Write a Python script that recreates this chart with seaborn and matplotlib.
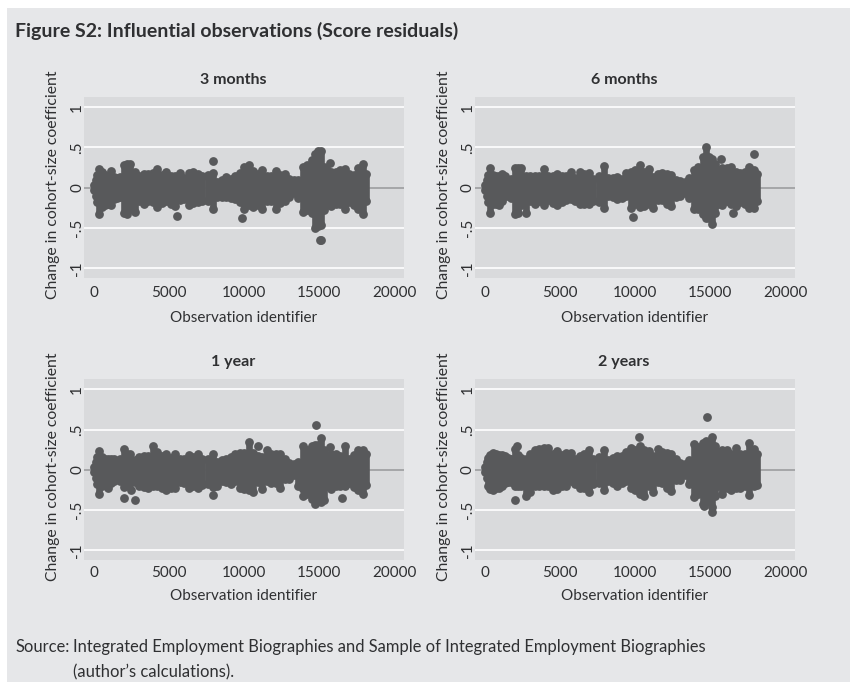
# Figure S2: influential observations, score residuals by horizon

import matplotlib
matplotlib.use("Agg")
import pandas as pd
import seaborn as sns
import matplotlib.pyplot as plt
from matplotlib.patches import Rectangle

W, H = 850, 682

panel_titles = ["3 months", "6 months", "1 year", "2 years"]
x_ticks = [0, 5000, 10000, 15000, 20000]
y_ticks = [-1, -0.5, 0, 0.5, 1]
y_tick_labels = ["-1", "-.5", "0", ".5", "1"]

obs_ids = [
    0, 100, 200, 300, 500, 700, 900, 1100, 1300, 1500,
    1700, 2000, 2200, 2400, 2700, 3000, 3300, 3600, 3900, 4200,
    4500, 4800, 5100, 5400, 5700, 6000, 6300, 6600, 6900, 7200,
    7600, 7900, 8200, 8500, 8800, 9100, 9400, 9700, 10000, 10300,
    10600, 10900, 11200, 11500, 11800, 12100, 12400, 12700, 13000, 13300,
    13600, 13900, 14200, 14500, 14700, 14900, 15100, 15300, 15500, 15800,
    16100, 16400, 16700, 17000, 17300, 17600, 17900, 18100,
]

upper_3m = [
    .03, .10, .16, .23, .19, .16, .15, .21, .13, .12,
    .13, .28, .29, .30, .20, .15, .17, .17, .18, .23,
    .16, .20, .15, .15, .18, .12, .18, .19, .17, .14,
    .16, .18, .07, .09, .13, .11, .14, .18, .26, .28,
    .21, .17, .22, .14, .14, .21, .16, .17, .11, .09,
    .10, .26, .28, .34, .42, .45, .45, .26, .22, .20,
    .20, .22, .23, .17, .16, .25, .30, .17,
]
lower_3m = [
    -.03, -.10, -.18, -.33, -.24, -.22, -.20, -.22, -.14, -.13,
    -.12, -.32, -.33, -.26, -.30, -.17, -.20, -.17, -.18, -.24,
    -.19, -.16, -.20, -.23, -.15, -.14, -.21, -.19, -.18, -.17,
    -.17, -.27, -.12, -.11, -.12, -.13, -.14, -.18, -.27, -.22,
    -.24, -.22, -.27, -.16, -.17, -.27, -.19, -.17, -.12, -.07,
    -.13, -.30, -.28, -.32, -.50, -.47, -.46, -.28, -.22, -.23,
    -.20, -.20, -.27, -.18, -.21, -.27, -.33, -.16,
]
out_x_3m = [7950, 15750, 5500, 9850, 15050, 15150]
out_y_3m = [.33, .31, -.35, -.37, -.65, -.65]

upper_6m = [
    .03, .10, .16, .24, .16, .14, .15, .17, .15, .10,
    .11, .24, .24, .24, .15, .14, .15, .15, .23, .14,
    .15, .17, .14, .15, .19, .12, .19, .17, .18, .11,
    .15, .27, .12, .12, .13, .11, .18, .20, .22, .28,
    .20, .23, .13, .17, .18, .17, .16, .10, .08, .07,
    .12, .22, .26, .38, .50, .38, .36, .30, .22, .24,
    .24, .26, .20, .18, .20, .26, .22, .17,
]
lower_6m = [
    -.03, -.10, -.18, -.31, -.20, -.20, -.21, -.17, -.10, -.10,
    -.13, -.33, -.31, -.22, -.32, -.17, -.20, -.17, -.22, -.15,
    -.19, -.22, -.18, -.15, -.14, -.17, -.20, -.20, -.20, -.17,
    -.18, -.25, -.10, -.12, -.14, -.13, -.10, -.25, -.20, -.24,
    -.23, -.20, -.25, -.15, -.15, -.20, -.23, -.12, -.10, -.07,
    -.13, -.26, -.27, -.33, -.38, -.37, -.45, -.32, -.20, -.22,
    -.16, -.20, -.23, -.18, -.20, -.25, -.25, -.17,
]
out_x_6m = [9850, 15750, 17900, 16550]
out_y_6m = [-.36, .36, .42, -.31]

upper_1y = [
    .03, .10, .16, .23, .16, .14, .14, .14, .13, .11,
    .14, .26, .20, .19, .12, .16, .17, .17, .29, .22,
    .17, .19, .15, .19, .14, .13, .18, .16, .20, .13,
    .14, .20, .10, .12, .14, .16, .20, .21, .21, .34,
    .21, .17, .16, .25, .20, .20, .19, .13, .08, .07,
    .10, .29, .24, .30, .31, .31, .40, .25, .18, .20,
    .20, .17, .29, .14, .18, .25, .25, .19,
]
lower_1y = [
    -.03, -.10, -.18, -.30, -.20, -.19, -.22, -.16, -.14, -.12,
    -.14, -.21, -.19, -.17, -.15, -.20, -.21, -.23, -.20, -.20,
    -.22, -.25, -.23, -.22, -.15, -.17, -.22, -.20, -.22, -.19,
    -.18, -.21, -.20, -.14, -.15, -.18, -.14, -.23, -.24, -.25,
    -.27, -.15, -.24, -.14, -.17, -.17, -.22, -.12, -.12, -.07,
    -.20, -.24, -.30, -.36, -.42, -.30, -.40, -.38, -.20, -.24,
    -.20, -.20, -.20, -.17, -.21, -.25, -.30, -.19,
]
out_x_1y = [2000, 2450, 2700, 7950, 10950, 14800, 15750, 13900, 16550]
out_y_1y = [-.35, -.25, -.37, -.31, .30, .55, .28, -.32, -.35]

upper_2y = [
    .03, .10, .15, .18, .21, .19, .18, .18, .17, .15,
    .13, .26, .18, .15, .13, .20, .25, .26, .27, .27,
    .20, .23, .18, .21, .21, .14, .17, .19, .25, .14,
    .16, .24, .12, .15, .17, .17, .22, .27, .25, .29,
    .25, .23, .17, .26, .22, .21, .20, .14, .08, .07,
    .12, .32, .28, .33, .36, .33, .41, .30, .21, .25,
    .24, .19, .27, .19, .20, .33, .26, .19,
]
lower_2y = [
    -.03, -.10, -.20, -.24, -.25, -.22, -.22, -.20, -.17, -.15,
    -.15, -.20, -.20, -.20, -.32, -.28, -.20, -.20, -.20, -.20,
    -.25, -.24, -.20, -.20, -.14, -.18, -.22, -.22, -.27, -.18,
    -.17, -.25, -.14, -.17, -.20, -.17, -.14, -.22, -.25, -.30,
    -.33, -.20, -.27, -.15, -.17, -.22, -.26, -.13, -.13, -.07,
    -.18, -.34, -.30, -.43, -.40, -.38, -.52, -.33, -.20, -.30,
    -.22, -.25, -.22, -.22, -.20, -.31, -.20, -.19,
]
out_x_2y = [2000, 2100, 14800, 10250, 14600, 15100]
out_y_2y = [-.37, .30, .66, .41, -.45, -.46]

uppers = [upper_3m, upper_6m, upper_1y, upper_2y]
lowers = [lower_3m, lower_6m, lower_1y, lower_2y]
out_xs = [out_x_3m, out_x_6m, out_x_1y, out_x_2y]
out_ys = [out_y_3m, out_y_6m, out_y_1y, out_y_2y]

PAGE = "#e6e7e9"
PLOT = "#d9dadc"
DOT = "#58595b"
TEXT = "#2f3032"

sns.set_theme(style="white")
plt.rcParams["font.family"] = ["Lato", "DejaVu Sans"]

fig, axes = plt.subplots(2, 2, figsize=(W / 100, H / 100), dpi=100)
fig.patch.set_facecolor("white")
fig.subplots_adjust(left=84 / W, right=795 / W, top=1 - 96.7 / H, bottom=1 - 560 / H,
                    wspace=71 / 320, hspace=101 / 181.5)
fig.add_artist(Rectangle((7 / W, 0), 1 - 7 / W, 1 - 8 / H, transform=fig.transFigure,
                         facecolor=PAGE, edgecolor="none", zorder=-5))

for i, ax in enumerate(axes.flat):
    top_row = i < 2
    ax.set_facecolor(PLOT)
    sns.despine(ax=ax, left=True, bottom=True, right=True, top=True)
    for y in [-1, -0.5, 0.5, 1]:
        ax.axhline(y, color="white", lw=1.2, zorder=1)
    ax.axhline(0, color="#9c9d9f", lw=1.2, zorder=1)

    # the solid body of the cloud between its two edges
    ax.vlines(obs_ids, lowers[i], uppers[i], color=DOT, lw=4.8, zorder=2)
    edge = pd.DataFrame({
        "id": obs_ids + obs_ids + out_xs[i],
        "change": uppers[i] + lowers[i] + out_ys[i],
    })
    sns.scatterplot(data=edge, x="id", y="change", ax=ax, color=DOT, s=40,
                    linewidth=0, zorder=3)

    ax.set_xlim(-687, 20667)
    ax.set_ylim(-1.12, 1.13)
    ax.set_xticks(x_ticks)
    ax.set_yticks(y_ticks)
    ax.set_yticklabels(y_tick_labels, rotation=90, va="center")
    ax.tick_params(axis="x", direction="in", length=7, width=1, color="white",
                   labelsize=11, labelcolor=TEXT, pad=6 if top_row else 4)
    ax.tick_params(axis="y", length=0, labelsize=11, labelcolor=TEXT, pad=0)
    ax.set_xlabel("Observation identifier", fontsize=11, color=TEXT,
                  labelpad=8 if top_row else 7)
    ax.set_ylabel("Change in cohort-size coefficient", fontsize=11.3, color=TEXT,
                  labelpad=7, y=0.515)
    ax.set_title(panel_titles[i], x=0.466, fontsize=11.5, fontweight="bold",
                 color=TEXT, pad=9)

fig.text(15 / W, 1 - 31 / H, "Figure S2: Influential observations (Score residuals)",
         fontsize=14, fontweight="bold", color=TEXT, va="center")
fig.text(15 / W, 1 - 647 / H, "Source:", fontsize=11.9, color=TEXT, va="center")
fig.text(73 / W, 1 - 647 / H,
         "Integrated Employment Biographies and Sample of Integrated Employment Biographies",
         fontsize=11.9, color=TEXT, va="center")
fig.text(73 / W, 1 - 672 / H, "(author’s calculations).", fontsize=11.9, color=TEXT, va="center")

fig.savefig("out.png", dpi=100, facecolor=fig.get_facecolor())
